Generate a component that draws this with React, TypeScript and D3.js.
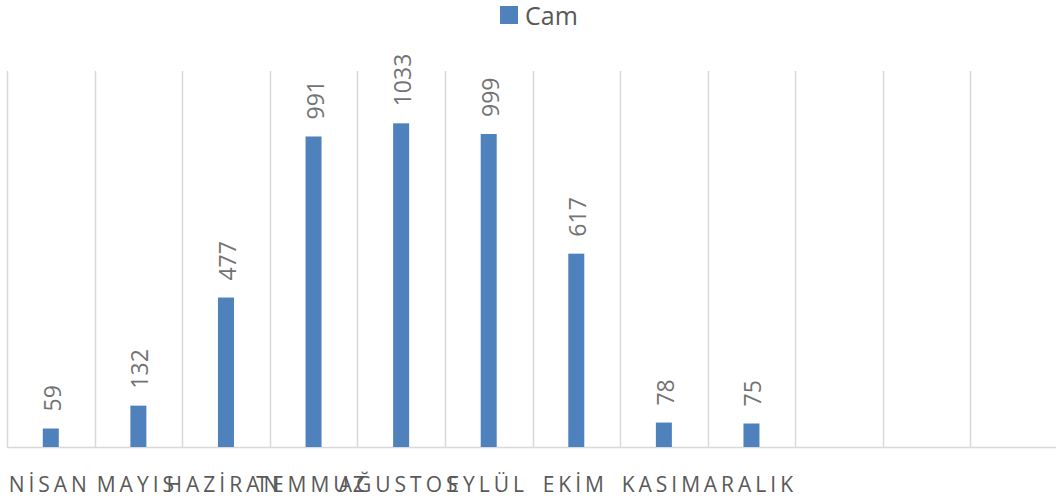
import React, { useEffect, useRef } from 'react';
import * as d3 from 'd3';

const months = ['NİSAN', 'MAYIS', 'HAZİRAN', 'TEMMUZ', 'AĞUSTOS', 'EYLÜL', 'EKİM', 'KASIM', 'ARALIK', '', ' ', '  '];
const camValues = [59, 132, 477, 991, 1033, 999, 617, 78, 75];
const seriesName = 'Cam';

const App = () => {
    const svgRef = useRef<SVGSVGElement>(null);

    useEffect(() => {
        drawChart();
    }, []);

    const drawChart = () => {
        const width = 1056;
        const height = 504;
        const font = '"Open Sans", "Liberation Sans", sans-serif';
        const textColor = '#595959';
        const barColor = '#4f81bd';

        const svg = d3.select(svgRef.current);
        svg.selectAll('*').remove();
        svg.attr('width', width).attr('height', height);

        const x = d3.scaleBand().domain(months).range([7, 1058]);
        const y = d3.scaleLinear().domain([0, 1200]).range([447, 71]);

        // vertical category separators
        const edges = months.map(m => x(m)!).concat([x.range()[1]]);
        svg.append('g')
            .selectAll('line')
            .data(edges)
            .enter()
            .append('line')
            .attr('x1', d => Math.round(d) + 0.5)
            .attr('x2', d => Math.round(d) + 0.5)
            .attr('y1', y(1200))
            .attr('y2', y(0))
            .attr('stroke', '#d9d9d9')
            .attr('stroke-width', 1.5);

        // baseline
        svg.append('line')
            .attr('x1', 7)
            .attr('x2', 1058)
            .attr('y1', y(0) + 0.5)
            .attr('y2', y(0) + 0.5)
            .attr('stroke', '#d9d9d9')
            .attr('stroke-width', 1.5);

        const barW = 16;
        const bars = svg.append('g');
        bars.selectAll('rect')
            .data(camValues)
            .enter()
            .append('rect')
            .attr('x', (d, i) => x(months[i])! + x.bandwidth() / 2 - barW / 2)
            .attr('y', d => y(d))
            .attr('width', barW)
            .attr('height', d => y(0) - y(d))
            .attr('fill', barColor);

        bars.selectAll('text')
            .data(camValues)
            .enter()
            .append('text')
            .attr('transform', (d, i) => {
                const cx = x(months[i])! + x.bandwidth() / 2;
                return `translate(${cx + 10},${y(d) - 17}) rotate(-90)`;
            })
            .attr('text-anchor', 'start')
            .attr('font-family', font)
            .attr('font-size', 23)
            .attr('fill', '#737373')
            .text(d => d);

        // category labels (they overlap in the original too)
        svg.append('g')
            .selectAll('text')
            .data(months)
            .enter()
            .append('text')
            .attr('x', d => x(d)! + x.bandwidth() / 2 - 1)
            .attr('y', 492)
            .attr('text-anchor', 'middle')
            .attr('font-family', font)
            .attr('font-size', 21)
            .attr('letter-spacing', 4)
            .attr('fill', textColor)
            .text(d => d.trim());

        // legend
        const legend = svg.append('g');
        legend.append('rect')
            .attr('x', 500)
            .attr('y', 6)
            .attr('width', 18)
            .attr('height', 18)
            .attr('fill', barColor);
        legend.append('text')
            .attr('x', 525)
            .attr('y', 24.5)
            .attr('font-family', font)
            .attr('font-size', 25)
            .attr('fill', textColor)
            .text(seriesName);
    };

    return (
        <div style={{ position: 'absolute', left: 0, top: 0 }}>
            <svg ref={svgRef}></svg>
        </div>
    );
};

export default App;
